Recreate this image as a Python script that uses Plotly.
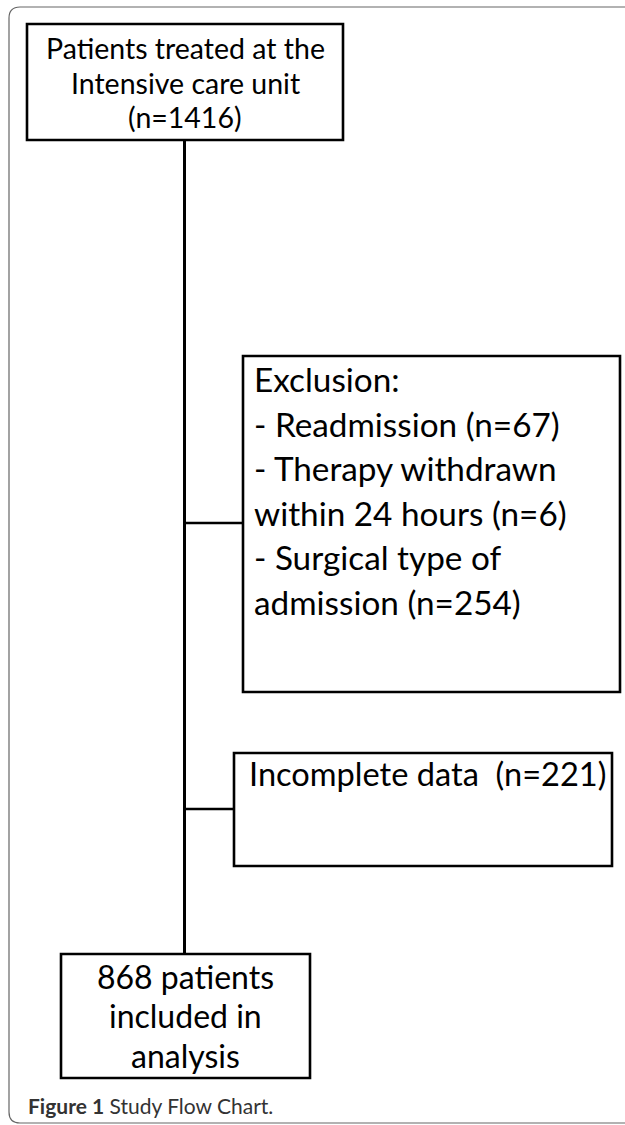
import plotly.graph_objects as go

# ---- data ----
total_n = 1416
readmission_n = 67
withdrawn_n = 6
surgical_n = 254
incomplete_n = 221
included_n = 868

top_lines = ["Patients treated at the", "Intensive care unit", f"(n={total_n})"]
excl_lines = ["Exclusion:", f"- Readmission (n={readmission_n})", "- Therapy withdrawn",
              f"within 24 hours (n={withdrawn_n})", "- Surgical type of",
              f"admission (n={surgical_n})"]
incomplete_lines = [f"Incomplete data  (n={incomplete_n})"]
bottom_lines = [f"{included_n} patients", "included in", "analysis"]

# ---- layout constants ----
W, H = 625, 1125
FONT = "Lato"
fig = go.Figure()

boxes = [  # x0, y0, x1, y1
    (27, 24, 343, 140),
    (243, 356, 620, 692),
    (234, 753, 612, 866),
    (61, 954, 310, 1078),
]
shapes = []
for (x0, y0, x1, y1) in boxes:
    shapes.append(dict(type="rect", xref="x", yref="y", x0=x0, y0=y0, x1=x1, y1=y1,
                       line=dict(color="black", width=2.6), fillcolor="white", layer="above"))

spine_x = 184.5
shapes.append(dict(type="line", xref="x", yref="y", x0=spine_x, x1=spine_x, y0=140, y1=954,
                   line=dict(color="black", width=3)))
shapes.append(dict(type="line", xref="x", yref="y", x0=spine_x, x1=243, y0=523, y1=523,
                   line=dict(color="black", width=2.6)))
shapes.append(dict(type="line", xref="x", yref="y", x0=spine_x, x1=234, y0=809, y1=809,
                   line=dict(color="black", width=2.6)))

# outer rounded frame
fl, ft, fr, fb, r = 9, 7, 660, 1123, 11
path = (f"M {fr},{ft} L {fl+r},{ft} Q {fl},{ft} {fl},{ft+r} "
        f"L {fl},{fb-r} Q {fl},{fb} {fl+r},{fb} L {fr},{fb}")
shapes.append(dict(type="path", xref="x", yref="y", path=path,
                   line=dict(color="#666666", width=1.2)))

annotations = []
def add_lines(lines, x, y0, dy, size, xanchor):
    for i, t in enumerate(lines):
        annotations.append(dict(x=x, y=y0 + i * dy, xref="x", yref="y", text=t,
                                showarrow=False, xanchor=xanchor, yanchor="middle",
                                align=xanchor if xanchor != "center" else "center",
                                font=dict(family=FONT, size=size, color="black")))

add_lines(top_lines, 185, 48, 34.5, 28.5, "center")
add_lines(excl_lines, 252, 379, 44.5, 33.3, "left")
add_lines(incomplete_lines, 247, 773, 0, 32.6, "left")
add_lines(bottom_lines, 185.5, 976, 39.5, 32, "center")

annotations.append(dict(x=26, y=1105, xref="x", yref="y",
                        text="<b>Figure 1</b> Study Flow Chart.",
                        showarrow=False, xanchor="left", yanchor="middle",
                        font=dict(family=FONT, size=21, color="#333333")))

fig.update_layout(
    width=W, height=H, margin=dict(l=0, r=0, t=0, b=0),
    paper_bgcolor="white", plot_bgcolor="white",
    xaxis=dict(range=[0, W], visible=False, fixedrange=True),
    yaxis=dict(range=[H, 0], visible=False, fixedrange=True),
    shapes=shapes, annotations=annotations, showlegend=False,
)
fig.write_html(
    "out.html",
    config={"displayModeBar": False},
    post_script="document.body.style.margin='0';document.body.style.overflow='hidden';"
                "document.documentElement.style.overflow='hidden';",
)
